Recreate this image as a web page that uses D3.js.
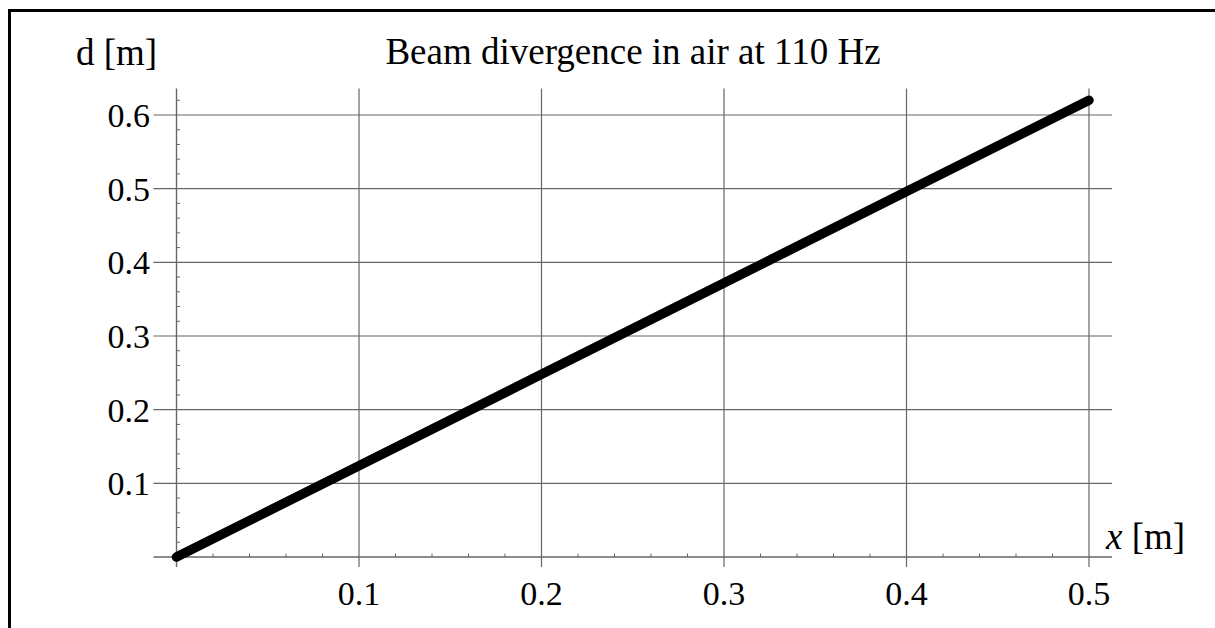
<!DOCTYPE html>
<html>
<head>
<meta charset="utf-8">
<script src="https://cdn.jsdelivr.net/npm/d3@7"></script>
<style>
    body { margin: 0; background: #fff; }
    text { font-family: "Liberation Serif", "DejaVu Serif", serif; fill: #000; }
</style>
</head>
<body>
<svg id="beam"></svg>
<script>
// distance from source [m] and beam diameter [m]
var distance = [0, 0.1, 0.2, 0.3, 0.4, 0.5];
var diameter = [0, 0.124, 0.248, 0.372, 0.496, 0.62];
var xTicks = [0.1, 0.2, 0.3, 0.4, 0.5];
var yTicks = [0.1, 0.2, 0.3, 0.4, 0.5, 0.6];
var titleText = "Beam divergence in air at 110 Hz";

var size = {
    width: 1215,
    height: 628
};

var svg = d3.select("#beam")
    .attr("width", size.width)
    .attr("height", size.height);

// frame, only top and left edges are visible
svg.append("path")
    .attr("d", "M9.5,628V10.5H1215")
    .attr("fill", "none")
    .attr("stroke", "black")
    .attr("stroke-width", 3);

var x = d3.scaleLinear()
    .domain([0, 0.5])
    .range([176.5, 1089]);

var y = d3.scaleLinear()
    .domain([0, 0.6])
    .range([557, 115]);

var xEnd = 0.5126, yEnd = 0.636;
var gridColor = "#666";

// vertical grid lines
svg.selectAll(".vgrid")
    .data(xTicks)
    .enter()
    .append("line")
    .attr("class", "vgrid")
    .attr("x1", d => x(d))
    .attr("x2", d => x(d))
    .attr("y1", y(yEnd))
    .attr("y2", y(0) + 10)
    .attr("stroke", gridColor)
    .attr("stroke-width", 1.2);

// horizontal grid lines
svg.selectAll(".hgrid")
    .data(yTicks)
    .enter()
    .append("line")
    .attr("class", "hgrid")
    .attr("x1", x(0) - 23)
    .attr("x2", x(xEnd))
    .attr("y1", d => y(d))
    .attr("y2", d => y(d))
    .attr("stroke", gridColor)
    .attr("stroke-width", 1.2);

// axes
svg.append("line")
    .attr("x1", x(0) - 23)
    .attr("x2", x(xEnd))
    .attr("y1", y(0))
    .attr("y2", y(0))
    .attr("stroke", gridColor)
    .attr("stroke-width", 1.4);
svg.append("line")
    .attr("x1", x(0))
    .attr("x2", x(0))
    .attr("y1", y(yEnd))
    .attr("y2", y(0) + 10)
    .attr("stroke", gridColor)
    .attr("stroke-width", 1.4);

// minor ticks
var xMinor = d3.range(0, 51).map(i => i / 100).filter(d => Math.round(d * 100) % 10 != 0 && Math.round(d * 100) % 2 == 0);
var yMinor = d3.range(0, 64).map(i => i / 100).filter(d => Math.round(d * 100) % 10 != 0 && Math.round(d * 100) % 2 == 0);

svg.selectAll(".xminor")
    .data(xMinor)
    .enter()
    .append("line")
    .attr("x1", d => x(d))
    .attr("x2", d => x(d))
    .attr("y1", y(0))
    .attr("y2", y(0) - 3.5)
    .attr("stroke", gridColor)
    .attr("stroke-width", 1);

svg.selectAll(".yminor")
    .data(yMinor)
    .enter()
    .append("line")
    .attr("x1", x(0))
    .attr("x2", x(0) + 3.5)
    .attr("y1", d => y(d))
    .attr("y2", d => y(d))
    .attr("stroke", gridColor)
    .attr("stroke-width", 1);

// tick labels
svg.selectAll(".xlabel")
    .data(xTicks)
    .enter()
    .append("text")
    .attr("x", d => x(d))
    .attr("y", 605)
    .attr("text-anchor", "middle")
    .style("font-size", "34px")
    .text(d => d3.format(".1f")(d));

svg.selectAll(".ylabel")
    .data(yTicks)
    .enter()
    .append("text")
    .attr("x", 150)
    .attr("y", d => y(d) + 12)
    .attr("text-anchor", "end")
    .style("font-size", "34px")
    .text(d => d3.format(".1f")(d));

// the beam
var line = d3.line()
    .x(d => x(d[0]))
    .y(d => y(d[1]));

svg.append("path")
    .datum(d3.zip(distance, diameter))
    .attr("d", line)
    .attr("fill", "none")
    .attr("stroke", "black")
    .attr("stroke-width", 9.5)
    .attr("stroke-linecap", "round");

// titles
svg.append("text")
    .attr("x", 633)
    .attr("y", 64)
    .attr("text-anchor", "middle")
    .style("font-size", "37px")
    .text(titleText);

svg.append("text")
    .attr("x", 76)
    .attr("y", 65)
    .style("font-size", "37px")
    .text("d [m]");

var xl = svg.append("text")
    .attr("x", 1106)
    .attr("y", 549)
    .style("font-size", "37px");
xl.append("tspan").style("font-style", "italic").text("x");
xl.append("tspan").text(" [m]");
</script>
</body>
</html>
